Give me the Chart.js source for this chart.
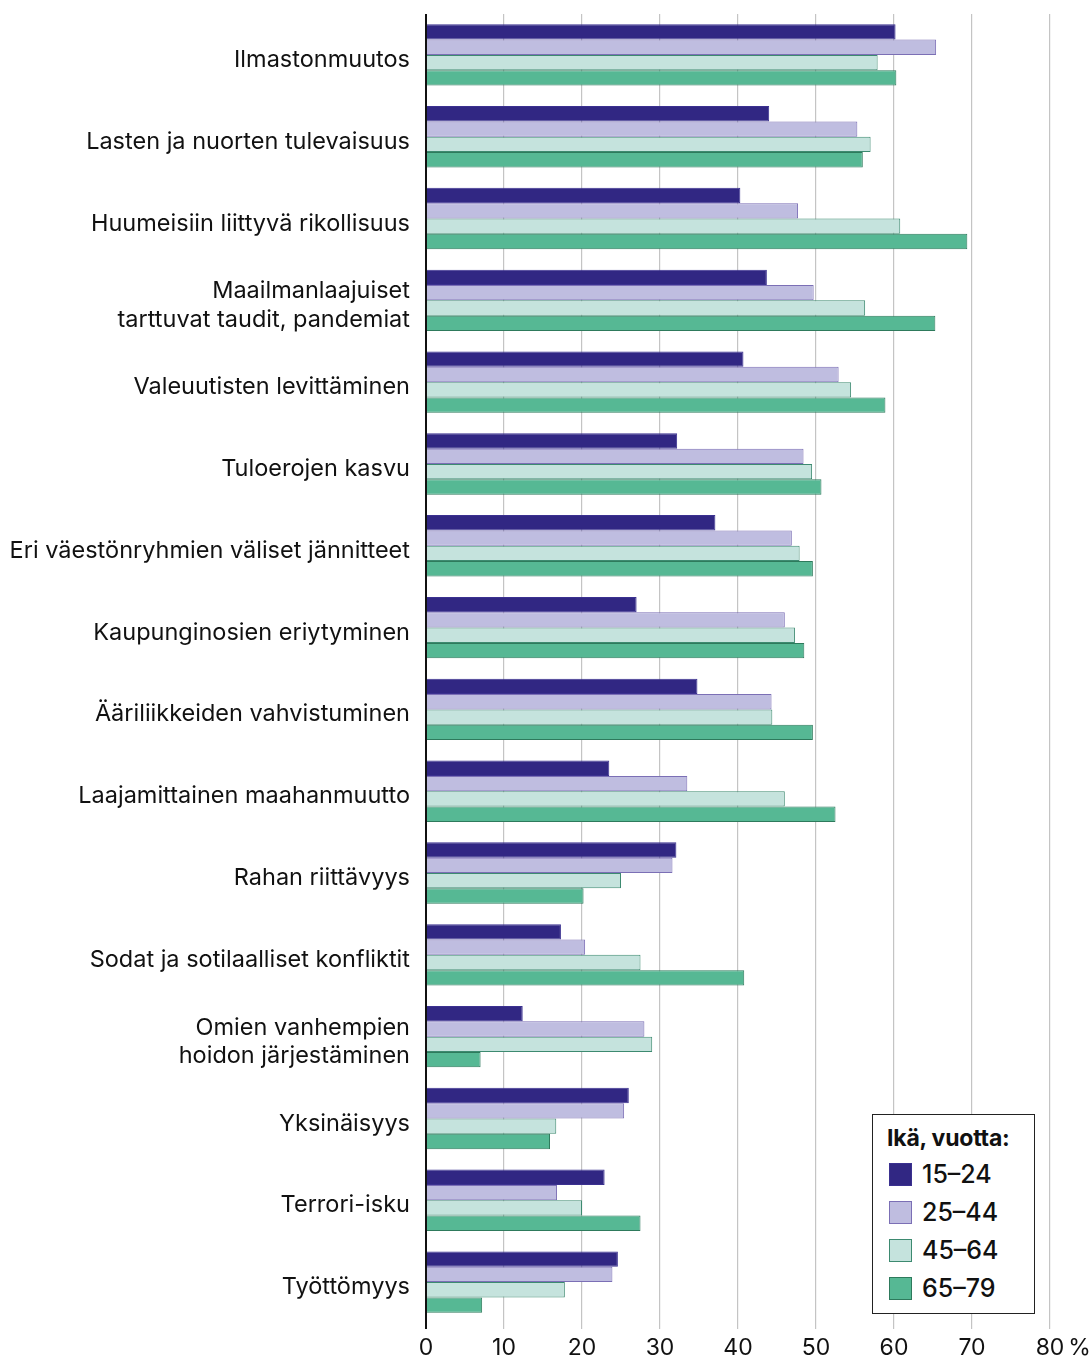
<!DOCTYPE html>
<html>
<head>
<meta charset="utf-8">
<script src="https://cdn.jsdelivr.net/npm/chart.js@4"></script>
<style>
  html, body { margin: 0; padding: 0; background: #fff; }
  #wrap { position: relative; width: 1092px; height: 1360px; }
  #legend {
    position: absolute; left: 872px; top: 1114px; width: 161px; height: 198px;
    border: 1.5px solid #222; background: #fff; font-family: Inter, "Noto Sans", sans-serif; color: #111;
  }
  #legend .title { position: absolute; left: 14px; top: 9px; font-weight: 700; font-size: 23px; letter-spacing: -0.2px; }
  #legend .item { position: absolute; left: 16px; height: 26px; display: flex; align-items: center; font-size: 25px; font-weight: 500; }
  #legend .sw { width: 23px; height: 23px; box-sizing: border-box; border: 1px solid; margin-right: 10px; }
</style>
</head>
<body>
<div id="wrap">
  <canvas id="c" width="1092" height="1360"></canvas>
  <div id="legend"></div>
</div>
<script>
const categories = [
  "Ilmastonmuutos",
  "Lasten ja nuorten tulevaisuus",
  "Huumeisiin liittyvä rikollisuus",
  ["Maailmanlaajuiset", "tarttuvat taudit, pandemiat"],
  "Valeuutisten levittäminen",
  "Tuloerojen kasvu",
  "Eri väestönryhmien väliset jännitteet",
  "Kaupunginosien eriytyminen",
  "Ääriliikkeiden vahvistuminen",
  "Laajamittainen maahanmuutto",
  "Rahan riittävyys",
  "Sodat ja sotilaalliset konfliktit",
  ["Omien vanhempien", "hoidon järjestäminen"],
  "Yksinäisyys",
  "Terrori-isku",
  "Työttömyys"
];
const seriesNames = ["15–24", "25–44", "45–64", "65–79"];
const age15_24 = [60.2, 44.0, 40.3, 43.7, 40.7, 32.2, 37.1, 27.0, 34.8, 23.5, 32.1, 17.3, 12.4, 26.0, 22.9, 24.6];
const age25_44 = [65.4, 55.3, 47.7, 49.7, 52.9, 48.4, 46.9, 46.0, 44.3, 33.5, 31.6, 20.4, 28.0, 25.4, 16.8, 23.9];
const age45_64 = [57.9, 57.0, 60.8, 56.3, 54.5, 49.5, 47.9, 47.3, 44.4, 46.0, 25.0, 27.5, 29.0, 16.7, 20.0, 17.8];
const age65_79 = [60.3, 56.0, 69.4, 65.3, 58.9, 50.7, 49.6, 48.5, 49.6, 52.5, 20.2, 40.8, 7.0, 15.9, 27.5, 7.2];
const xTickLabels = ["0", "10", "20", "30", "40", "50", "60", "70", "80"];
const unitLabel = "%";

const fills = ["#312783", "#bfbde0", "#c5e3dd", "#56b894"];
const borders = ["#3b3190", "#7b6fb5", "#3d8a70", "#2e7a5c"];
const allSeries = [age15_24, age25_44, age45_64, age65_79];

const FONT = 'Inter, "Noto Sans", sans-serif';
const XFONT_SIZE = 23;

const axisLine = {
  id: 'axisLine',
  afterDatasetsDraw(chart) {
    const { ctx, chartArea, scales } = chart;
    const x = scales.x.getPixelForValue(0);
    ctx.save();
    ctx.strokeStyle = '#111';
    ctx.lineWidth = 2;
    ctx.beginPath();
    ctx.moveTo(x, chartArea.top);
    ctx.lineTo(x, chartArea.bottom + 6);
    ctx.stroke();
    // unit after the last tick label
    const xs = scales.x;
    const last = xs.ticks.length - 1;
    const px = xs.getPixelForTick(last);
    ctx.font = XFONT_SIZE + 'px ' + FONT;
    const w = ctx.measureText(xTickLabels[last]).width;
    ctx.fillStyle = '#111';
    ctx.textAlign = 'left';
    ctx.textBaseline = 'middle';
    ctx.fillText(unitLabel, px + w / 2 + 4, chartArea.bottom + 6 + 5 + XFONT_SIZE * 1.2 / 2);
    ctx.restore();
  }
};

new Chart(document.getElementById('c'), {
  type: 'bar',
  data: {
    labels: categories,
    datasets: allSeries.map((d, i) => ({
      label: seriesNames[i],
      data: d,
      backgroundColor: fills[i],
      borderColor: borders[i],
      borderWidth: 1,
      borderSkipped: 'start',
      categoryPercentage: 0.75,
      barPercentage: 1.0
    }))
  },
  options: {
    indexAxis: 'y',
    responsive: false,
    animation: false,
    devicePixelRatio: 1,
    layout: { padding: { left: 0, right: 42, top: 14, bottom: 0 } },
    plugins: { legend: { display: false }, tooltip: { enabled: false } },
    scales: {
      x: {
        min: 0, max: 80,
        ticks: {
          stepSize: 10,
          color: '#111',
          padding: 5,
          maxRotation: 0,
          font: { family: FONT, size: XFONT_SIZE, lineHeight: 1.2 },
          callback: (v, i) => xTickLabels[i]
        },
        grid: {
          color: (c) => c.index === 0 ? 'rgba(0,0,0,0)' : '#c4c4c4',
          tickColor: (c) => c.index === 0 ? 'rgba(0,0,0,0)' : '#c4c4c4',
          lineWidth: 1.2,
          drawTicks: true,
          tickLength: 6
        },
        border: { display: false },
        afterFit: (s) => { s.height = 37; s.paddingLeft = 0; s.paddingRight = 0; }
      },
      y: {
        ticks: {
          color: '#111',
          padding: 16,
          labelOffset: 5,
          font: { family: FONT, size: 23.5, lineHeight: 1.2 },
          autoSkip: false
        },
        grid: { display: false, drawTicks: false },
        border: { display: false },
        afterFit: (s) => { s.width = 426; s.paddingTop = 0; s.paddingBottom = 0; }
      }
    }
  },
  plugins: [axisLine]
});

const lg = document.getElementById('legend');
const t = document.createElement('div');
t.className = 'title';
t.textContent = 'Ikä, vuotta:';
lg.appendChild(t);
seriesNames.forEach((n, i) => {
  const it = document.createElement('div');
  it.className = 'item';
  it.style.top = (46 + i * 38) + 'px';
  const sw = document.createElement('span');
  sw.className = 'sw';
  sw.style.background = fills[i];
  sw.style.borderColor = borders[i];
  const tx = document.createElement('span');
  tx.textContent = n;
  it.appendChild(sw);
  it.appendChild(tx);
  lg.appendChild(it);
});
</script>
</body>
</html>
